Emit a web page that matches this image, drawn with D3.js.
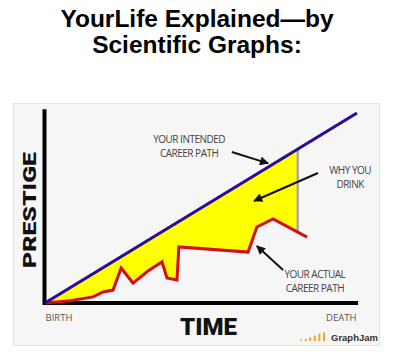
<!DOCTYPE html>
<html>
<head>
<meta charset="utf-8">
<script src="https://cdn.jsdelivr.net/npm/d3@7"></script>
<style>
  html, body { margin: 0; padding: 0; background: #fff; }
  svg { display: block; }
  .title { font-family: 'Liberation Sans', Arial, sans-serif; font-weight: bold; font-size: 24.5px; fill: #000; }
  .big { font-family: Roboto, Inter, 'DejaVu Sans', sans-serif; font-weight: 900; fill: #111; }
  .note { font-family: 'Open Sans', sans-serif; font-size: 10px; fill: #444; letter-spacing: -0.5px; }
  .tick text { font-family: 'Open Sans', sans-serif; font-size: 9.5px; fill: #555; }
</style>
</head>
<body>
<svg id="chart"></svg>
<script>
'use strict';

var titleLines = ['YourLife Explained\u2014by', 'Scientific Graphs:'];
var timeLabels = ['BIRTH', 'DEATH'];
var axisTitles = {x: 'TIME', y: 'PRESTIGE'};

// intended career path: straight line
var intendedTime = [0, 100];
var intendedPrestige = [0, 100];

// actual career path
var actualTime = [0, 8, 15.4, 18.6, 21.8, 24.4, 28.2, 33, 37.5, 39.1, 42.3, 42.9, 65.1, 67.9, 73.1, 84];
var actualPrestige = [0, 1.2, 3.2, 5.8, 6.8, 18.4, 10.5, 16.8, 21.6, 13.2, 12.1, 29.5, 26.8, 40, 44.2, 34.7];

// where the "why you drink" gap is measured
var drinkAt = 81;

var notes = ['YOUR INTENDED|CAREER PATH', 'WHY YOU|DRINK', 'YOUR ACTUAL|CAREER PATH'];
var logoBars = [1.5, 2, 3.5, 5.5, 7.5, 8.5];

var W = 400, H = 361;
var svg = d3.select('#chart').attr('width', W).attr('height', H);

var x = d3.scaleLinear().domain([0, 100]).range([45, 357]);
var y = d3.scaleLinear().domain([0, 100]).range([303, 113]);

// title
svg.selectAll('.title')
  .data(titleLines)
  .enter().append('text')
    .attr('class', 'title')
    .attr('x', 197)
    .attr('y', function(d, i) { return 27 + i * 26; })
    .attr('text-anchor', 'middle')
    .text(function(d) { return d; });

// panel
svg.append('rect')
  .attr('x', 13.5).attr('y', 103.5)
  .attr('width', 366).attr('height', 242)
  .attr('fill', '#f6f6f6')
  .attr('stroke', '#e4e4e4');

var intended = intendedTime.map(function(t, i) { return {t: t, p: intendedPrestige[i]}; });
var actual = actualTime.map(function(t, i) { return {t: t, p: actualPrestige[i]}; });

// red value at drinkAt
var k = d3.bisector(function(d) { return d.t; }).left(actual, drinkAt);
var a0 = actual[k - 1], a1 = actual[k];
var redAt = a0.p + (a1.p - a0.p) * (drinkAt - a0.t) / (a1.t - a0.t);
var blueAt = intended[0].p + (intended[1].p - intended[0].p) * (drinkAt - intended[0].t) / (intended[1].t - intended[0].t);

var line = d3.line()
  .x(function(d) { return x(d.t); })
  .y(function(d) { return y(d.p); });

// yellow gap
var gap = actual.filter(function(d) { return d.t < drinkAt; })
  .concat([{t: drinkAt, p: redAt}, {t: drinkAt, p: blueAt}, intended[0]]);
svg.append('path')
  .attr('d', line(gap) + 'Z')
  .attr('fill', '#ffff00');

svg.append('line')
  .attr('x1', x(drinkAt)).attr('x2', x(drinkAt))
  .attr('y1', y(blueAt)).attr('y2', y(redAt))
  .attr('stroke', '#aaaaaa')
  .attr('stroke-width', 2.5);

// axes
var xAxis = svg.append('g')
  .attr('class', 'axis axis--x')
  .attr('transform', 'translate(0,' + y(0) + ')')
  .call(d3.axisBottom(x).tickValues([0, 100]).tickSize(0).tickPadding(11)
    .tickFormat(function(d, i) { return timeLabels[i]; }));
xAxis.select('.domain').attr('stroke', '#000').attr('stroke-width', 4)
  .attr('d', 'M' + (x(0) - 2) + ',0H' + (x(100) + 1));
xAxis.selectAll('.tick text')
  .attr('text-anchor', function(d, i) { return i === 0 ? 'start' : 'end'; })
  .attr('dx', function(d, i) { return i === 0 ? 0 : -1; });

svg.append('line')
  .attr('x1', x(0) - 0.5).attr('x2', x(0) - 0.5)
  .attr('y1', y(0) + 2).attr('y2', y(102))
  .attr('stroke', '#000')
  .attr('stroke-width', 4);

svg.append('text')
  .attr('class', 'big')
  .attr('x', 208.5).attr('y', 335)
  .attr('text-anchor', 'middle')
  .attr('font-size', 23.5)
  .attr('textLength', 57).attr('lengthAdjust', 'spacingAndGlyphs')
  .text(axisTitles.x);

svg.append('text')
  .attr('class', 'big')
  .attr('transform', 'translate(35.5,210) rotate(-90)')
  .attr('text-anchor', 'middle')
  .attr('font-size', 19)
  .attr('textLength', 116).attr('lengthAdjust', 'spacingAndGlyphs')
  .text(axisTitles.y);

// career paths
svg.append('path')
  .attr('d', line(actual))
  .attr('fill', 'none')
  .attr('stroke', '#d40d12')
  .attr('stroke-width', 3)
  .attr('stroke-linejoin', 'miter');

svg.append('path')
  .attr('d', line(intended))
  .attr('fill', 'none')
  .attr('stroke', '#2c0b9c')
  .attr('stroke-width', 3.2);

// annotations
svg.append('defs').append('marker')
  .attr('id', 'head')
  .attr('viewBox', '0 0 10 10')
  .attr('refX', 9).attr('refY', 5)
  .attr('markerWidth', 11).attr('markerHeight', 9)
  .attr('markerUnits', 'userSpaceOnUse')
  .attr('orient', 'auto')
  .append('path')
    .attr('d', 'M0,0L10,5L0,10Z')
    .attr('fill', '#111');

var arrows = [
  {from: [59.9, 79.5], to: [71.5, 73.5]},
  {from: [87.5, 68.4], to: [67, 53.7]},
  {from: [76.3, 17.4], to: [67.9, 30]}
];
svg.selectAll('.arrow')
  .data(arrows)
  .enter().append('line')
    .attr('class', 'arrow')
    .attr('x1', function(d) { return x(d.from[0]); })
    .attr('y1', function(d) { return y(d.from[1]); })
    .attr('x2', function(d) { return x(d.to[0]); })
    .attr('y2', function(d) { return y(d.to[1]); })
    .attr('stroke', '#111')
    .attr('stroke-width', 2)
    .attr('marker-end', 'url(#head)');

var notePos = [[46.2, 84.2], [97.8, 67.9], [86.5, 13.2]];
notes.forEach(function(n, i) {
  var t = svg.append('text')
    .attr('class', 'note')
    .attr('text-anchor', 'middle');
  n.split('|').forEach(function(s, j) {
    t.append('tspan')
      .attr('x', x(notePos[i][0]))
      .attr('y', y(notePos[i][1]) + j * 14)
      .text(s);
  });
});

// GraphJam logo
svg.selectAll('.logo')
  .data(logoBars)
  .enter().append('rect')
    .attr('class', 'logo')
    .attr('x', function(d, i) { return 300 + i * 4.6; })
    .attr('y', function(d) { return 341 - d; })
    .attr('width', 2)
    .attr('height', function(d) { return d; })
    .attr('fill', '#f0a526');

svg.append('text')
  .attr('x', 331).attr('y', 341)
  .attr('font-family', "'Liberation Sans', Arial, sans-serif")
  .attr('font-weight', 'bold')
  .attr('font-size', 9.5)
  .attr('fill', '#333')
  .text('GraphJam');
</script>
</body>
</html>
